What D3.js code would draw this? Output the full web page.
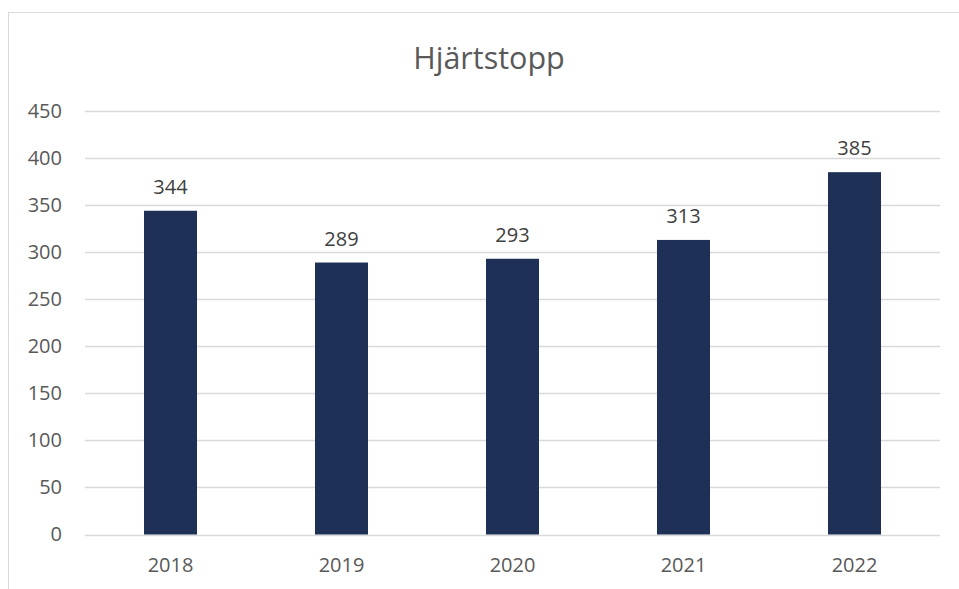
<!DOCTYPE html>
<html>
<head>
<meta charset="utf-8">
<script src="https://cdn.jsdelivr.net/npm/d3@7"></script>
<style>
  body { margin: 0; background: #fff; }
  svg { display: block; font-family: "Open Sans", sans-serif; }
</style>
</head>
<body>
<div id="chart"></div>
<script>
var years = ["2018", "2019", "2020", "2021", "2022"];
var values = [344, 289, 293, 313, 385];
var yTicks = [0, 50, 100, 150, 200, 250, 300, 350, 400, 450];
var title = "Hjärtstopp";

var W = 959, H = 589;
var margin = {top: 111, right: 19, bottom: 54.5, left: 85},
    width = W - margin.left - margin.right,
    height = H - margin.top - margin.bottom;

var svg = d3.select("#chart")
    .append("svg")
    .attr("width", W)
    .attr("height", H);

// outer chart border
svg.append("rect")
    .attr("x", 8.5)
    .attr("y", 12.5)
    .attr("width", W + 10)
    .attr("height", H + 10)
    .attr("fill", "none")
    .attr("stroke", "#d9d9d9");

svg.append("text")
    .attr("x", 489)
    .attr("y", 69)
    .attr("text-anchor", "middle")
    .style("font-size", "30.5px")
    .style("fill", "#595959")
    .text(title);

var g = svg.append("g")
    .attr("transform", "translate(" + margin.left + "," + margin.top + ")");

var x = d3.scaleBand()
    .domain(years)
    .range([0, width])
    .paddingInner(0.69)
    .paddingOuter(0.345);

var y = d3.scaleLinear()
    .domain([0, 450])
    .range([height, 0]);

// gridlines
g.append("g")
    .selectAll("line")
    .data(yTicks)
    .enter().append("line")
    .attr("x1", 0)
    .attr("x2", width)
    .attr("y1", function(d) { return Math.round(y(d)) + 0.5; })
    .attr("y2", function(d) { return Math.round(y(d)) + 0.5; })
    .attr("stroke", "#d9d9d9")
    .attr("stroke-width", 1.3);

// y axis labels
var yAxis = g.append("g")
    .call(d3.axisLeft(y).tickValues(yTicks).tickSize(0).tickPadding(23));
yAxis.select(".domain").remove();
yAxis.selectAll("text")
    .style("font-family", "\"Open Sans\", sans-serif")
    .style("font-size", "20px")
    .style("fill", "#595959");

// x axis labels
var xAxis = g.append("g")
    .attr("transform", "translate(0," + height + ")")
    .call(d3.axisBottom(x).tickSize(0).tickPadding(23));
xAxis.select(".domain").remove();
xAxis.selectAll("text")
    .style("font-family", "\"Open Sans\", sans-serif")
    .style("font-size", "20px")
    .style("fill", "#595959");

var data = years.map(function(d, i) { return {year: d, value: values[i]}; });

g.append("g")
    .selectAll("rect")
    .data(data)
    .enter().append("rect")
    .attr("x", function(d) { return x(d.year); })
    .attr("y", function(d) { return y(d.value); })
    .attr("width", x.bandwidth())
    .attr("height", function(d) { return y(0) - y(d.value); })
    .attr("fill", "#1f3057");

g.append("g")
    .selectAll("text")
    .data(data)
    .enter().append("text")
    .attr("x", function(d) { return x(d.year) + x.bandwidth() / 2; })
    .attr("y", function(d) { return y(d.value) - 17; })
    .attr("text-anchor", "middle")
    .style("font-size", "20px")
    .style("fill", "#404040")
    .text(function(d) { return d.value; });
</script>
</body>
</html>
